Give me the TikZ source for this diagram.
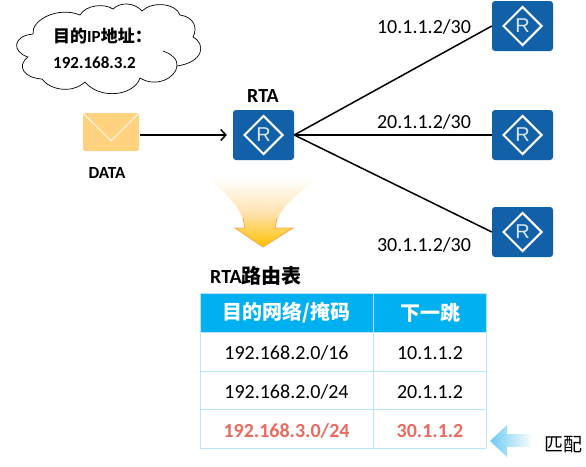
\documentclass[tikz,border=0pt]{standalone}
\usepackage{fontspec}
\setmainfont{Carlito}
\newfontfamily\cjk{Noto Sans CJK SC}
\newfontfamily\marksans{Liberation Sans}
\usetikzlibrary{arrows.meta,shapes.geometric}
\definecolor{routerblue}{HTML}{1160A8}
\definecolor{headblue}{HTML}{00B0F0}
\definecolor{gridblue}{HTML}{B9E5F9}
\definecolor{mailgold}{HTML}{FFD27F}
\definecolor{matchred}{HTML}{E96B5E}
\definecolor{arrowgold}{HTML}{FFC000}
\definecolor{arrowpale}{HTML}{FFE3B0}
\definecolor{arrowedge}{HTML}{F9A64A}
\definecolor{matchblue}{HTML}{6CCBF3}
\tikzset{
  router/.style={fill=routerblue, rounded corners=3pt, minimum width=61pt, minimum height=50pt, inner sep=0pt},
  routermark/.style={diamond, draw=white, line width=2pt, minimum width=39pt, minimum height=39pt, inner sep=0pt, text=white!85!routerblue, font=\fontsize{20}{20}\selectfont\marksans},
  link/.style={line width=1.5pt},
  label/.style={font=\fontsize{20}{20}\selectfont, inner sep=0pt},
  boldlabel/.style={font=\fontsize{17}{17}\selectfont\bfseries, inner sep=0pt},
  titlelabel/.style={font=\fontsize{20}{20}\selectfont\bfseries, inner sep=0pt},
  headcell/.style={font=\fontsize{20}{20}\selectfont\bfseries\cjk, text=white, inner sep=0pt},
  matchcell/.style={font=\fontsize{20}{20}\selectfont\bfseries, text=matchred, inner sep=0pt},
}
\begin{document}
\begin{tikzpicture}[x=1pt, y=-1pt]
  \useasboundingbox (0,0) rectangle (586,466);
  % cloud
  \draw[line width=0.7pt, fill=white] (33,34)
    .. controls (31,20) and (58,6) .. (80,15) .. controls (86,5) and (104,3) .. (113,9)
    .. controls (120,2) and (134,2) .. (142,11) .. controls (152,1) and (176,3) .. (180,15)
    .. controls (194,17) and (198,28) .. (193,37) .. controls (206,44) and (204,62) .. (177,66)
    .. controls (176,78) and (156,88) .. (140,78) .. controls (134,96) and (100,100) .. (85,82)
    .. controls (72,94) and (50,90) .. (42,79) .. controls (24,78) and (16,66) .. (28,57)
    .. controls (12,52) and (12,36) .. (33,34) -- cycle;
  \draw[line width=0.7pt] (163,51) .. controls (172,54) and (178,60) .. (177,66);
  \node[boldlabel, anchor=west] (dstip) at (53,36) {{\cjk 目的}IP{\cjk 地址：}};
  \node[boldlabel, anchor=west] (dstval) at (53,63) {192.168.3.2};
  % mail
  \node[fill=mailgold, rounded corners=2pt, minimum width=56pt, minimum height=38pt, inner sep=0pt] (mail) at (111,132) {};
  \draw[white, line width=0.8pt] (mail.north west) -- ([yshift=-28pt]mail.north) -- (mail.north east);
  \node[boldlabel] (data) at (107,173) {DATA};
  % routers
  \node[router] (rta) at (263.5,135) {};
  \node[routermark] (rtamark) at (rta) {R};
  \node[titlelabel] (rtaname) at (263,96) {RTA};
  \node[router] (r1) at (522.5,26) {};
  \node[routermark] (r1mark) at (r1) {R};
  \node[router] (r2) at (522.5,135) {};
  \node[routermark] (r2mark) at (r2) {R};
  \node[router] (r3) at (522.5,232) {};
  \node[routermark] (r3mark) at (r3) {R};
  \draw[link, shorten <=1pt, shorten >=6pt, -{Straight Barb[length=5pt,width=11pt]}] (mail.east |- rta.west) -- (rta.west);
  \draw[link] (rta.east) -- (r1.west);
  \draw[link] (rta.east) -- (r2.west);
  \draw[link] (rta.east) -- (r3.west);
  \node[label] (addr1) at (424,27) {10.1.1.2/30};
  \node[label] (addr2) at (424,122) {20.1.1.2/30};
  \node[label] (addr3) at (424,245) {30.1.1.2/30};
  % big arrow
  \shade[top color=white, bottom color=arrowgold, middle color=arrowpale, draw=none]
    (208,178) .. controls (225,193) and (243,208) .. (245,228) -- (235,228) -- (263,247) -- (293,228) -- (275,228)
    .. controls (278,208) and (296,195) .. (318,178) -- cycle;
  \draw[arrowedge, line width=0.8pt] (243,218) -- (245,228) -- (235,228) -- (263,247) -- (293,228) -- (275,228) -- (277,218);
  % table
  \node[titlelabel] (tabname) at (256,276) {RTA{\cjk 路由表}};
  \fill[headblue] (200,293) rectangle (486,332);
  \foreach \y in {293,332,371,409,448} \draw[gridblue, line width=1pt] (200,\y) -- (486,\y);
  \foreach \x in {200,373,486} \draw[gridblue, line width=1pt] (\x,293) -- (\x,448);
  \node[headcell] (h1) at (286.5,313) {目的网络/掩码};
  \node[headcell] (h2) at (430,313) {下一跳};
  \node[label] (a1) at (286.5,353) {192.168.2.0/16};
  \node[label] (b1) at (430,353) {10.1.1.2};
  \node[label] (a2) at (286.5,392) {192.168.2.0/24};
  \node[label] (b2) at (430,392) {20.1.1.2};
  \node[matchcell] (a3) at (286.5,431) {192.168.3.0/24};
  \node[matchcell] (b3) at (430,431) {30.1.1.2};
  % match arrow
  \shade[left color=matchblue, right color=white, draw=none]
    (490,441) -- (507,425) -- (507,434) -- (533,434) -- (533,447) -- (507,447) -- (507,457) -- cycle;
  \node[font=\fontsize{19}{19}\selectfont\cjk, inner sep=0pt] (match) at (563,445) {匹配};
\end{tikzpicture}
\end{document}
